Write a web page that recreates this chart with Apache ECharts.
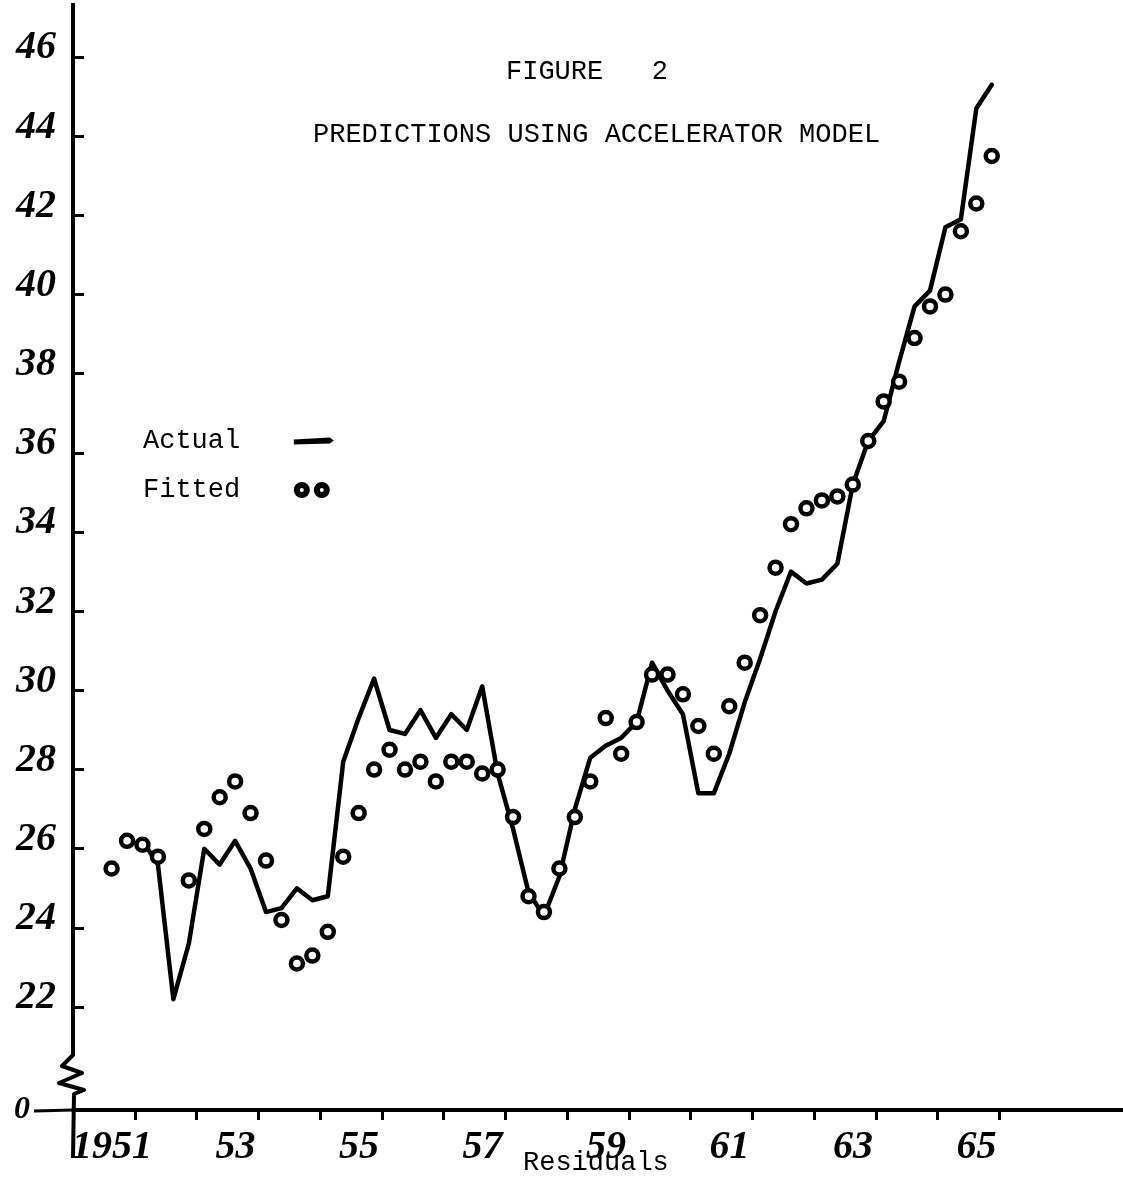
<!DOCTYPE html>
<html>
<head>
<meta charset="utf-8">
<title>Figure 2 - Predictions using accelerator model</title>
<script src="https://cdn.jsdelivr.net/npm/echarts@6/dist/echarts.min.js"></script>
<style>
  html, body { margin: 0; padding: 0; background: #fff; }
  #chart { width: 1123px; height: 1184px; }
</style>
</head>
<body>
<div id="chart"></div>
<script>
// quarters (1951 Q3 .. 1965 Q4)
const periods = [
  '1951Q3', '1951Q4',
  '1952Q1', '1952Q2', '1952Q3', '1952Q4',
  '1953Q1', '1953Q2', '1953Q3', '1953Q4',
  '1954Q1', '1954Q2', '1954Q3', '1954Q4',
  '1955Q1', '1955Q2', '1955Q3', '1955Q4',
  '1956Q1', '1956Q2', '1956Q3', '1956Q4',
  '1957Q1', '1957Q2', '1957Q3', '1957Q4',
  '1958Q1', '1958Q2', '1958Q3', '1958Q4',
  '1959Q1', '1959Q2', '1959Q3', '1959Q4',
  '1960Q1', '1960Q2', '1960Q3', '1960Q4',
  '1961Q1', '1961Q2', '1961Q3', '1961Q4',
  '1962Q1', '1962Q2', '1962Q3', '1962Q4',
  '1963Q1', '1963Q2', '1963Q3', '1963Q4',
  '1964Q1', '1964Q2', '1964Q3', '1964Q4',
  '1965Q1', '1965Q2', '1965Q3', '1965Q4'
]

const actual = [
  null, null,
  26.2, 25.6, 22.2, 23.6,
  26.0, 25.6, 26.2, 25.5,
  24.4, 24.5, 25.0, 24.7,
  24.8, 28.2, 29.3, 30.3,
  29.0, 28.9, 29.5, 28.8,
  29.4, 29.0, 30.1, 27.9,
  26.5, 24.9, 24.3, 25.3,
  27.0, 28.3, 28.6, 28.8,
  29.2, 30.7, 30.0, 29.4,
  27.4, 27.4, 28.4, 29.7,
  30.8, 32.0, 33.0, 32.7,
  32.8, 33.2, 35.2, 36.3,
  36.8, 38.3, 39.7, 40.1,
  41.7, 41.9, 44.7, 45.3
]

const fitted = [
  25.5, 26.2,
  26.1, 25.8, null, 25.2,
  26.5, 27.3, 27.7, 26.9,
  25.7, 24.2, 23.1, 23.3,
  23.9, 25.8, 26.9, 28.0,
  28.5, 28.0, 28.2, 27.7,
  28.2, 28.2, 27.9, 28.0,
  26.8, 24.8, 24.4, 25.5,
  26.8, 27.7, 29.3, 28.4,
  29.2, 30.4, 30.4, 29.9,
  29.1, 28.4, 29.6, 30.7,
  31.9, 33.1, 34.2, 34.6,
  34.8, 34.9, 35.2, 36.3,
  37.3, 37.8, 38.9, 39.7,
  40.0, 41.6, 42.3, 43.5
]

const yTicks = [22, 24, 26, 28, 30, 32, 34, 36, 38, 40, 42, 44, 46]
const yearTicks = [1952, 1953, 1954, 1955, 1956, 1957, 1958, 1959,
  1960, 1961, 1962, 1963, 1964, 1965, 1966]
const labelYears = [1951, 1953, 1955, 1957, 1959, 1961, 1963, 1965]
const yearLabels = ['1951', '53', '55', '57', '59', '61', '63', '65']

// broken axis: bottom of the plot stands for 0
const Y_BREAK = 19.4
const Y_TOP = 47.34

const GRID = { left: 73, right: 0, top: 4, bottom: 74 }
const W = 1123, H = 1184
const axisY = H - GRID.bottom

const mono = '"Liberation Mono", "DejaVu Sans Mono", monospace'
const hand = '"Liberation Serif", "DejaVu Serif", serif'

// quarter -> fractional year (middle of the quarter)
const toYear = p => Number(p.slice(0, 4)) + (Number(p.slice(5)) - 0.5) / 4

const actualData = periods.map((p, i) => [toYear(p), actual[i]]).filter(d => d[1] != null)
const fittedData = periods.map((p, i) => [toYear(p), fitted[i]]).filter(d => d[1] != null)

const chart = echarts.init(document.getElementById('chart'))

const option = {
  animation: false,
  backgroundColor: '#fff',
  title: [{
    text: 'FIGURE   2',
    left: 506, top: 57, padding: 0,
    textStyle: { fontFamily: mono, fontSize: 27, fontWeight: 'normal', color: '#000', lineHeight: 30 }
  }, {
    text: 'PREDICTIONS USING ACCELERATOR MODEL',
    left: 313, top: 120, padding: 0,
    textStyle: { fontFamily: mono, fontSize: 27, fontWeight: 'normal', color: '#000', lineHeight: 30 }
  }, {
    text: 'Residuals',
    left: 523, top: 1148, padding: 0,
    textStyle: { fontFamily: mono, fontSize: 27, fontWeight: 'normal', color: '#000', lineHeight: 30 }
  }],
  legend: [{
    data: [{
      name: 'Actual',
      icon: 'path://M0,2 L36,0 L40,3 L36,6 L0,7 Z',
      itemStyle: { color: '#000', borderWidth: 0 }
    }],
    left: 143, top: 426, padding: 0,
    orient: 'vertical', align: 'right',
    itemWidth: 40, itemHeight: 7,
    selectedMode: false,
    formatter: n => n + '   ',
    textStyle: { fontFamily: mono, fontSize: 27, color: '#000', lineHeight: 30 }
  }, {
    data: [{
      name: 'Fitted',
      icon: 'path://M0,8 A8,8 0 1,1 16,8 A8,8 0 1,1 0,8 Z M6,8 A2,2 0 1,0 10,8 A2,2 0 1,0 6,8 Z M20,8 A8,8 0 1,1 36,8 A8,8 0 1,1 20,8 Z M26,8 A2,2 0 1,0 30,8 A2,2 0 1,0 26,8 Z',
      itemStyle: { color: '#000', borderWidth: 0 }
    }],
    left: 143, top: 475, padding: 0,
    orient: 'vertical', align: 'right',
    itemWidth: 36, itemHeight: 16,
    selectedMode: false,
    formatter: n => n + '   ',
    textStyle: { fontFamily: mono, fontSize: 27, color: '#000', lineHeight: 30 }
  }],
  grid: {
    left: GRID.left, right: GRID.right, top: GRID.top, bottom: GRID.bottom,
    containLabel: false,
    outerBoundsMode: 'none'
  },
  xAxis: {
    type: 'value',
    min: 1951, max: 1968,
    axisLine: { onZero: false, lineStyle: { color: '#000', width: 4 } },
    axisTick: {
      customValues: yearTicks,
      length: 10,
      lineStyle: { color: '#000', width: 3 }
    },
    axisLabel: {
      customValues: labelYears.map(y => y + 0.5),
      formatter: v => yearLabels[labelYears.indexOf(Math.floor(v))],
      margin: 18,
      padding: [0, 0, 0, 16],
      fontFamily: hand, fontStyle: 'italic', fontWeight: 'bold',
      fontSize: 40, lineHeight: 40, color: '#000'
    },
    splitLine: { show: false }
  },
  yAxis: {
    type: 'value',
    min: Y_BREAK, max: Y_TOP,
    axisLine: { show: false },
    axisTick: {
      customValues: yTicks,
      inside: true, length: 11,
      lineStyle: { color: '#000', width: 3 }
    },
    axisLabel: {
      customValues: [Y_BREAK].concat(yTicks),
      formatter: v => (v < 20 ? '{z|0}' : String(v)),
      margin: 17,
      padding: [0, 0, 18, 0],
      fontFamily: hand, fontStyle: 'italic', fontWeight: 'bold',
      fontSize: 40, color: '#000',
      rich: {
        z: {
          fontFamily: hand, fontStyle: 'italic', fontWeight: 'bold',
          fontSize: 32, color: '#000', padding: [18, 26, 0, 0]
        }
      }
    },
    splitLine: { show: false }
  },
  series: [{
    name: 'Actual',
    type: 'line',
    data: actualData,
    showSymbol: false,
    symbol: 'none',
    lineStyle: { color: '#000', width: 4.5, join: 'round', cap: 'round' },
    itemStyle: { color: '#000' },
    z: 3
  }, {
    name: 'Fitted',
    type: 'scatter',
    data: fittedData,
    symbol: 'circle',
    symbolSize: 12,
    itemStyle: { color: '#fff', borderColor: '#000', borderWidth: 4.5, opacity: 1 },
    z: 4
  }],
  graphic: [{
    // y axis with the break between 0 and 22, running a little below the x axis
    type: 'polyline',
    shape: { points: [[73, 3], [73, 1055], [62, 1066], [82, 1073], [59, 1083], [84, 1090], [74, 1094], [73, 1158]] },
    style: { stroke: '#000', lineWidth: 4, fill: null, lineJoin: 'round' },
    z: 10
  }, {
    // x axis runs past the y axis to the "0"
    type: 'line',
    shape: { x1: 34, y1: axisY + 1, x2: 73, y2: axisY },
    style: { stroke: '#000', lineWidth: 3 },
    z: 10
  }]
}

chart.setOption(option)
</script>
</body>
</html>
